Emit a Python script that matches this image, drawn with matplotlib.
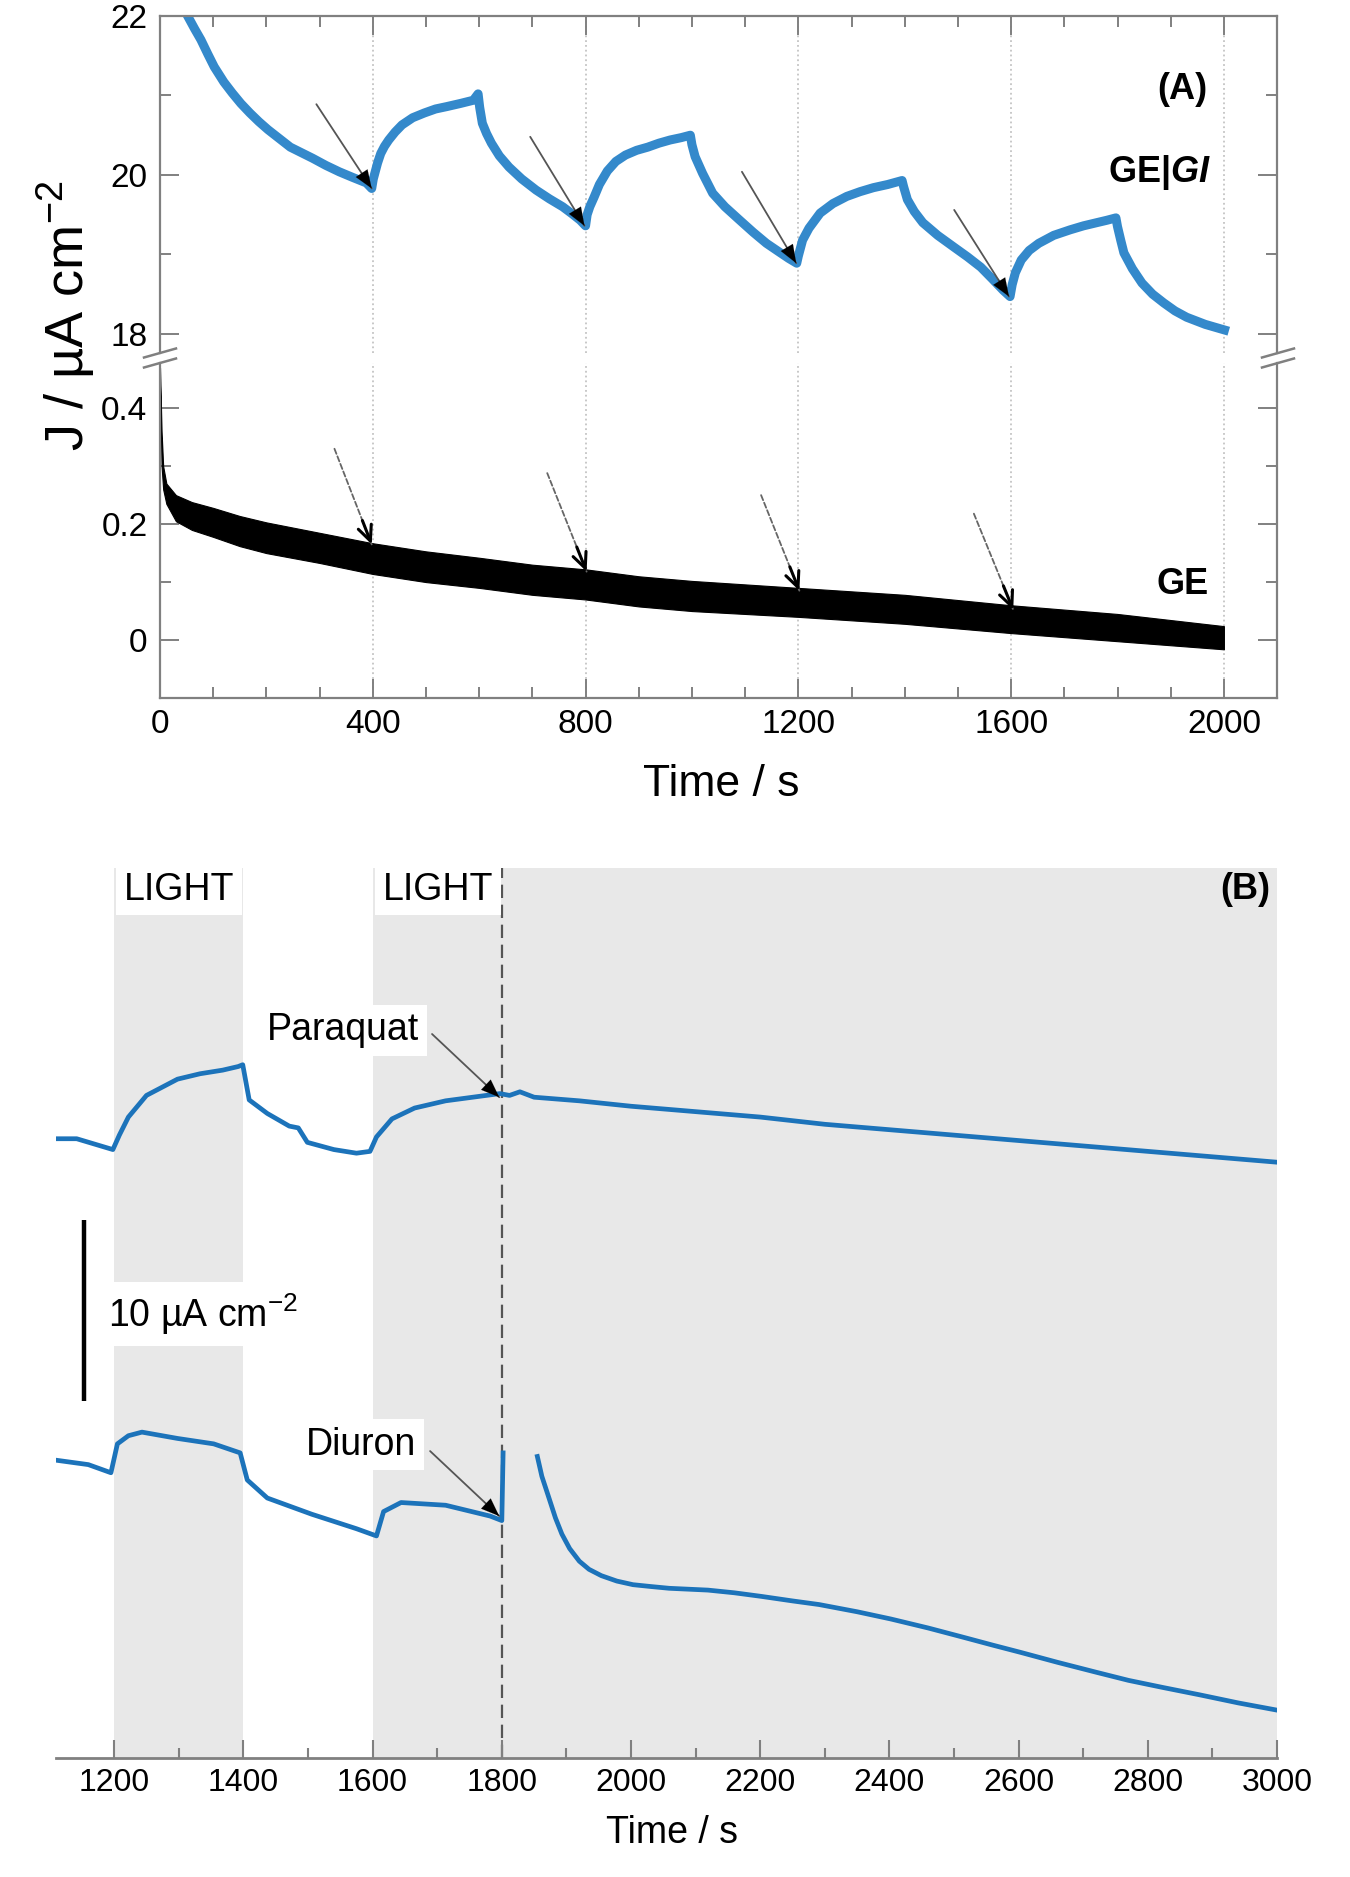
import matplotlib
matplotlib.use("Agg")
import matplotlib.pyplot as plt
from matplotlib import font_manager
from matplotlib.lines import Line2D
from matplotlib.ticker import MultipleLocator, FixedLocator

# ── fonts ────────────────────────────────────────────────────────────────────
names = {f.name for f in font_manager.fontManager.ttflist}
FONT = "Liberation Sans Narrow" if "Liberation Sans Narrow" in names else "Liberation Sans"
plt.rcParams["font.family"] = [FONT, "DejaVu Sans"]
plt.rcParams["mathtext.fontset"] = "custom"
plt.rcParams["mathtext.rm"] = FONT
plt.rcParams["mathtext.it"] = FONT + ":italic"
plt.rcParams["mathtext.bf"] = FONT + ":bold"
plt.rcParams["mathtext.bfit"] = FONT + ":italic:bold"

# ── panel A data ────────────────────────────────────────────────────────────
GI_T = [40, 52, 65, 77, 90, 102, 120, 136, 152, 169, 186, 203, 224, 245, 266, 287,
        312, 337, 362, 388, 398,
        401, 405, 409, 415, 422, 430, 442, 455, 475, 497, 518, 539, 565, 589, 598,
        601, 606, 614, 623, 638, 656, 680, 707, 732, 757, 775, 790, 800,
        803, 808, 816, 826, 841, 857, 875, 896, 917, 938, 959, 980, 997,
        1000, 1006, 1020, 1039, 1062, 1090, 1115, 1140, 1162, 1182, 1197,
        1200, 1204, 1208, 1220, 1241, 1265, 1291, 1316, 1341, 1368, 1395,
        1398, 1405, 1418, 1434, 1462, 1493, 1518, 1543, 1565, 1585, 1598,
        1602, 1608, 1619, 1634, 1652, 1680, 1711, 1736, 1761, 1780, 1797,
        1800, 1806, 1812, 1828, 1846, 1866, 1887, 1908, 1930, 1965, 2001]
GI_J = [22.15, 22.0, 21.84, 21.70, 21.52, 21.36, 21.17, 21.03, 20.90, 20.78, 20.67, 20.57,
        20.46, 20.35, 20.28, 20.21, 20.12, 20.04, 19.97, 19.90, 19.83,
        19.95, 20.05, 20.15, 20.27, 20.36, 20.44, 20.54, 20.63, 20.72, 20.78, 20.83, 20.86,
        20.90, 20.94, 21.02,
        20.85, 20.65, 20.52, 20.40, 20.24, 20.10, 19.95, 19.81, 19.70, 19.60, 19.51, 19.43, 19.36,
        19.50, 19.60, 19.72, 19.88, 20.05, 20.17, 20.25, 20.31, 20.35, 20.40, 20.44, 20.47, 20.50,
        20.38, 20.23, 20.02, 19.77, 19.60, 19.43, 19.28, 19.14, 19.04, 18.95, 18.89,
        18.98, 19.08, 19.18, 19.33, 19.52, 19.64, 19.73, 19.79, 19.84, 19.88, 19.93,
        19.85, 19.69, 19.54, 19.40, 19.24, 19.09, 18.97, 18.84, 18.69, 18.55, 18.47,
        18.62, 18.77, 18.93, 19.05, 19.14, 19.24, 19.31, 19.36, 19.40, 19.43, 19.46,
        19.35, 19.18, 19.02, 18.82, 18.64, 18.50, 18.39, 18.29, 18.21, 18.12, 18.05]

GE_T = [0, 3, 6, 12, 30, 60, 100, 150, 200, 300, 400, 500, 600, 700, 800, 900, 1000,
        1200, 1400, 1600, 1800, 2000]
GE_HI = [0.47, 0.36, 0.30, 0.27, 0.25, 0.238, 0.228, 0.214, 0.203, 0.185, 0.167, 0.153,
         0.142, 0.130, 0.122, 0.110, 0.102, 0.090, 0.078, 0.060, 0.045, 0.024]
GE_LO = [0.44, 0.30, 0.26, 0.235, 0.205, 0.19, 0.178, 0.162, 0.150, 0.133, 0.114, 0.100,
         0.090, 0.078, 0.070, 0.058, 0.050, 0.040, 0.028, 0.012, -0.002, -0.016]

UP_TIP_T = [398, 798, 1196, 1596]
UP_TIP_J = [19.83, 19.36, 18.89, 18.47]
UP_TAIL_T = [294, 696, 1094, 1493]
UP_TAIL_J = [20.89, 20.48, 20.04, 19.56]

LO_TIP_T = [398, 802, 1202, 1604]
LO_TIP_J = [0.165, 0.118, 0.085, 0.052]
LO_TAIL_T = [328, 728, 1130, 1530]
LO_TAIL_J = [0.330, 0.288, 0.250, 0.218]

X_GRID = [400, 800, 1200, 1600, 2000]
XTICKS_A = [0, 400, 800, 1200, 1600, 2000]

# ── panel B data ─────────────────────────────────────────────────────────────
PQ_T = [1109, 1142, 1170, 1198, 1208, 1222, 1250, 1298, 1333, 1368, 1392, 1399,
        1409, 1437, 1471, 1485, 1499, 1540, 1575, 1596,
        1606, 1630, 1665, 1713, 1755, 1797, 1812, 1828, 1850,
        1920, 2000, 2100, 2200, 2300, 2400, 2500, 2600, 2700, 2800, 2900, 3000]
PQ_J = [34.3, 34.3, 34.0, 33.7, 34.5, 35.5, 36.7, 37.6, 37.9, 38.1, 38.3, 38.4,
        36.45, 35.7, 35.0, 34.9, 34.1, 33.7, 33.5, 33.6,
        34.4, 35.4, 36.0, 36.4, 36.6, 36.8, 36.7, 36.9, 36.6,
        36.4, 36.1, 35.8, 35.5, 35.1, 34.8, 34.5, 34.2, 33.9, 33.6, 33.3, 33.0]

DI_T1 = [1109, 1160, 1195, 1205, 1222, 1243, 1298, 1354, 1395, 1406, 1437, 1506,
         1575, 1606, 1617, 1644, 1713, 1782, 1800, 1802]
DI_J1 = [16.5, 16.25, 15.8, 17.4, 17.85, 18.05, 17.7, 17.4, 16.9, 15.4, 14.4, 13.5,
         12.7, 12.3, 13.65, 14.15, 14.0, 13.4, 13.15, 16.9]
DI_T2 = [1855, 1862, 1873, 1883, 1893, 1905, 1920, 1935, 1954, 1978, 2003, 2030, 2059,
         2119, 2160, 2202, 2250, 2291, 2350, 2402, 2460, 2513, 2560, 2603, 2660, 2720,
         2770, 2824, 2880, 2940, 3000]
DI_J2 = [16.7, 15.6, 14.4, 13.3, 12.4, 11.6, 10.9, 10.45, 10.1, 9.8, 9.6, 9.5, 9.4,
         9.3, 9.15, 8.95, 8.7, 8.5, 8.1, 7.7, 7.2, 6.7, 6.25, 5.85, 5.3, 4.75,
         4.3, 3.9, 3.5, 3.05, 2.65]

LIGHT_SPANS = [(1200, 1400), (1600, 3000)]
XTICKS_B = [1200, 1400, 1600, 1800, 2000, 2200, 2400, 2600, 2800, 3000]
INJECTION_T = 1800

BLUE_A = "#3489CB"
BLUE_B = "#1C73BA"
FRAME = "#808080"


def pointer(ax, tail, tip, line_color, line_style="-", head="-|>,head_length=1.3,head_width=0.5",
            head_lw=0.1, frac=0.2):
    """thin grey shaft with a black head"""
    ax.annotate("", xy=tip, xytext=tail,
                arrowprops=dict(arrowstyle="-", color=line_color, lw=1.3,
                                linestyle=line_style, shrinkA=0, shrinkB=0), zorder=4)
    mid = (tip[0] - frac * (tip[0] - tail[0]), tip[1] + frac * (tail[1] - tip[1]))
    ax.annotate("", xy=tip, xytext=mid,
                arrowprops=dict(arrowstyle=head, color="black", lw=head_lw,
                                shrinkA=0, shrinkB=0), zorder=5)


fig = plt.figure(figsize=(13.5, 18.77), dpi=100)

# ─────────────── panel A: broken y axis ─────────────────────────────────────
axU = fig.add_axes([0.1185, 0.81193, 0.8275, 0.17955])
axL = fig.add_axes([0.1185, 0.62813, 0.8275, 0.17848])

for ax in (axU, axL):
    ax.set_xlim(0, 2100)
    for x in X_GRID:
        ax.axvline(x, color="#c4c4c4", ls=":", lw=1.3, zorder=0)
    for sp in ax.spines.values():
        sp.set_color(FRAME)
        sp.set_linewidth(1.6)
    ax.xaxis.set_major_locator(FixedLocator(XTICKS_A))
    ax.xaxis.set_minor_locator(MultipleLocator(100))
    ax.tick_params(which="both", direction="in", colors=FRAME, labelcolor="black",
                   labelsize=24, width=1.4, left=True, right=True)
    ax.tick_params(which="major", length=14)
    ax.tick_params(which="minor", length=8)
    ax.tick_params(axis="y", pad=9)

axU.spines["bottom"].set_visible(False)
axL.spines["top"].set_visible(False)
axU.tick_params(which="both", bottom=False, labelbottom=False, top=True)
axL.tick_params(which="both", top=False, bottom=True)
axL.tick_params(axis="x", pad=8)

axU.set_ylim(17.76, 22)
axU.yaxis.set_major_locator(FixedLocator([18, 20, 22]))
axU.yaxis.set_minor_locator(FixedLocator([19, 21]))
axL.set_ylim(-0.1, 0.478)
axL.yaxis.set_major_locator(FixedLocator([0, 0.2, 0.4]))
axL.yaxis.set_minor_locator(FixedLocator([0.1, 0.3]))
axL.set_yticklabels(["0", "0.2", "0.4"])

axU.plot(GI_T, GI_J, color=BLUE_A, lw=6.5, solid_joinstyle="round", zorder=2)
axL.fill_between(GE_T, GE_LO, GE_HI, color="black", lw=0.8, edgecolor="black", zorder=2)

for t0, j0, t1, j1 in zip(UP_TAIL_T, UP_TAIL_J, UP_TIP_T, UP_TIP_J):
    pointer(axU, (t0, j0), (t1, j1), "#555555")

for t0, j0, t1, j1 in zip(LO_TAIL_T, LO_TAIL_J, LO_TIP_T, LO_TIP_J):
    pointer(axL, (t0, j0), (t1, j1), "#666666", line_style=(0, (3, 1.5)),
            head="->,head_length=1.1,head_width=0.5", head_lw=2.2, frac=0.25)

axU.text(1921, 21.07, "(A)", fontsize=26, fontweight="bold", ha="center", va="center")
axU.text(1975, 20.03, r"$\mathbf{GE|}\mathbfit{GI}$", fontsize=26, ha="right", va="center")
axL.text(1972, 0.095, "GE", fontsize=26, fontweight="bold", ha="right", va="center")

# break marks on the y axes
for xf in (160 / 1350, 1278 / 1350):
    for yc in (353, 363):
        yf = 1 - yc / 1877
        fig.add_artist(Line2D([xf - 16 / 1350, xf + 16 / 1350],
                              [yf - 4.5 / 1877, yf + 4.5 / 1877],
                              color=FRAME, lw=1.8))

fig.text(66 / 1350, 1 - 316 / 1877, "J / µA cm$^{-2}$", fontsize=39,
         rotation=90, ha="center", va="center")
fig.text(721 / 1350, 1 - 784 / 1877, "Time / s", fontsize=32, ha="center", va="center")

# ─────────────── panel B ────────────────────────────────────────────────────
axB = fig.add_axes([0.0415, 0.0634, 0.9045, 0.4742])
axB.set_xlim(1110, 3000)
axB.set_ylim(0, 49.3)
for a, b in LIGHT_SPANS:
    axB.axvspan(a, b, color="#e8e8e8", lw=0, zorder=0)
axB.axvline(INJECTION_T, color="#555555", lw=1.6, ls=(0, (6, 3)), zorder=1)

axB.plot(PQ_T, PQ_J, color=BLUE_B, lw=3.4, zorder=3)
axB.plot(DI_T1, DI_J1, color=BLUE_B, lw=3.4, zorder=3)
axB.plot(DI_T2, DI_J2, color=BLUE_B, lw=3.4, zorder=3)

for sp in ("left", "right", "top"):
    axB.spines[sp].set_visible(False)
axB.spines["bottom"].set_color(FRAME)
axB.spines["bottom"].set_linewidth(2)
axB.set_yticks([])
axB.xaxis.set_major_locator(FixedLocator(XTICKS_B))
axB.xaxis.set_minor_locator(MultipleLocator(100))
axB.tick_params(axis="x", which="both", direction="in", colors=FRAME,
                labelcolor="black", labelsize=23, width=1.5, pad=7)
axB.tick_params(axis="x", which="major", length=13)
axB.tick_params(axis="x", which="minor", length=7)

box = dict(boxstyle="square,pad=0.2", facecolor="white", edgecolor="none")
axB.text(1300, 48.1, "LIGHT", fontsize=27, ha="center", va="center", bbox=box, zorder=6)
axB.text(1701, 48.1, "LIGHT", fontsize=27, ha="center", va="center", bbox=box, zorder=6)
axB.text(2950, 48.1, "(B)", fontsize=26, fontweight="bold", ha="center", va="center")

axB.text(1554, 40.3, "Paraquat", fontsize=27, ha="center", va="center", bbox=box, zorder=6)
pointer(axB, (1692, 40.1), (1796, 36.6), "#555555", frac=0.22)
axB.text(1582, 17.35, "Diuron", fontsize=27, ha="center", va="center", bbox=box, zorder=6)
pointer(axB, (1689, 17.0), (1796, 13.4), "#555555", frac=0.22)

# 10 uA cm-2 scale bar
axB.plot([1153.5, 1153.5], [19.8, 29.8], color="black", lw=3.2, solid_capstyle="butt")
axB.text(1191, 24.6, "10 µA cm$^{-2}$", fontsize=27, ha="left", va="center",
         bbox=dict(boxstyle="square,pad=0.25", facecolor="white", edgecolor="none"), zorder=6)

fig.text(672 / 1350, 1 - 1833 / 1877, "Time / s", fontsize=27, ha="center", va="center")

fig.savefig("out.png", dpi=100)
